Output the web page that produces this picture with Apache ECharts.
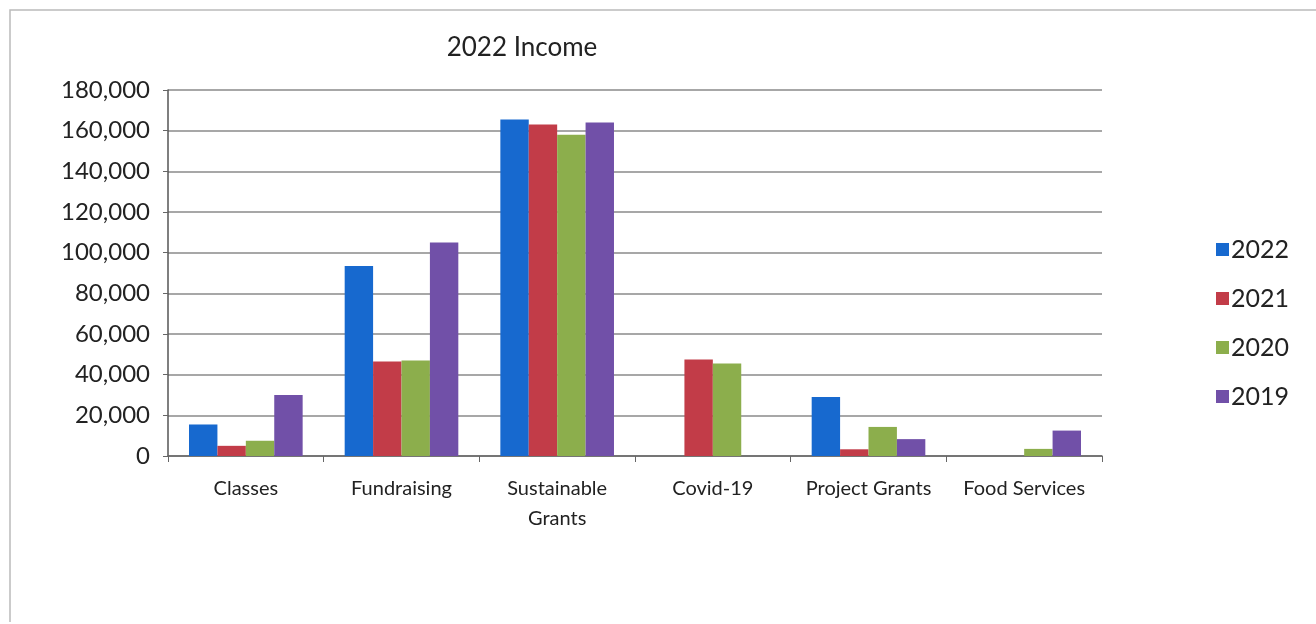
<!DOCTYPE html>
<html><head><meta charset="utf-8">
<script src="https://cdn.jsdelivr.net/npm/echarts@6/dist/echarts.min.js"></script>
<style>html,body{margin:0;padding:0;background:#fff}#c{width:1316px;height:624px}</style>
</head><body><div id="c"></div>
<script>
const categories = ['Classes', 'Fundraising', 'Sustainable\nGrants', 'Covid-19', 'Project Grants', 'Food Services'];
const seriesNames = ['2022', '2021', '2020', '2019'];
const v2022 = [15500, 93500, 165500, 0, 29000, 0];
const v2021 = [5000, 46500, 163000, 47500, 3300, 0];
const v2020 = [7500, 47000, 158000, 45500, 14300, 3500];
const v2019 = [30000, 105000, 164000, 0, 8300, 12500];
const yTicks = [0, 20000, 40000, 60000, 80000, 100000, 120000, 140000, 160000, 180000];
const colors = ['#1769cf', '#c23c48', '#8cae4c', '#7150a8'];
const font = "Lato, 'Open Sans', sans-serif";
const chart = echarts.init(document.getElementById('c'));
const dataSets = [v2022, v2021, v2020, v2019];
chart.setOption({
  animation: false,
  color: colors,
  graphic: [{type: 'polyline', shape: {points: [[10, 622], [10, 10], [1316, 10]]}, style: {stroke: '#bbb', lineWidth: 1.5, fill: null}}],
  title: {text: '2022 Income', left: 517, top: 30, textAlign: 'center',
    textStyle: {fontFamily: font, fontSize: 26, fontWeight: 'normal', color: '#222'}},
  legend: {orient: 'vertical', left: 1211, top: 232, itemGap: 24, itemWidth: 13, itemHeight: 13,
    icon: 'rect', data: seriesNames,
    textStyle: {fontFamily: font, fontSize: 25, color: '#222', padding: [0, 0, 0, -3]}},
  grid: {left: 168, right: 214, top: 90, bottom: 168},
  xAxis: {type: 'category', data: categories,
    axisLine: {lineStyle: {color: '#666', width: 1.5}},
    axisTick: {show: true, interval: 0, length: 6, lineStyle: {color: '#666'}},
    axisLabel: {interval: 0, fontFamily: font, fontSize: 20, color: '#222', margin: 18, lineHeight: 30}},
  yAxis: {type: 'value', min: 0, max: 180000, interval: 20000,
    axisLine: {show: true, lineStyle: {color: '#555', width: 1.5}},
    axisTick: {show: true, length: 5, lineStyle: {color: '#666'}},
    splitLine: {lineStyle: {color: '#8a8a8a', width: 1.5}},
    axisLabel: {fontFamily: font, fontSize: 24, color: '#222', margin: 18,
      formatter: v => yTicks.includes(v) ? v.toLocaleString('en-US') : ''}},
  series: dataSets.map((d, i) => ({
    name: seriesNames[i], type: 'bar', data: d, barGap: '0%', barCategoryGap: '27%'
  }))
});
</script></body></html>
